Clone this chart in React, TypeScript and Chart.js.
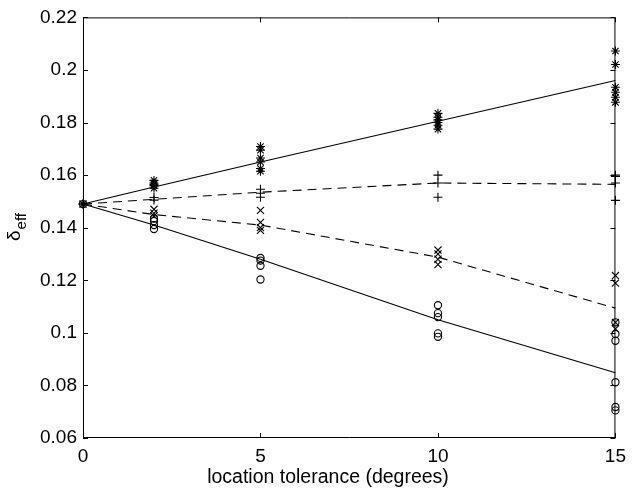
import { useEffect, useRef } from "react";
import { Chart, registerables } from "chart.js";

Chart.register(...registerables);

// x positions of the fitted curves
const lineX = [0, 2, 5, 10, 15];
const upperSolid = [0.149, 0.1555, 0.165, 0.1805, 0.196];
const upperDashed = [0.149, 0.1508, 0.1535, 0.157, 0.1565];
const lowerDashed = [0.149, 0.145, 0.141, 0.1288, 0.1094];
const lowerSolid = [0.149, 0.141, 0.128, 0.105, 0.0848];

// asterisk markers
const starX = [0, 2, 2, 2, 2, 2, 5, 5, 5, 5, 5, 5, 10, 10, 10, 10, 10, 10, 15, 15, 15, 15, 15, 15];
const starY = [0.149, 0.158, 0.157, 0.1565, 0.156, 0.155, 0.1709, 0.1695, 0.1665, 0.165, 0.1625, 0.1615, 0.1835, 0.182, 0.181, 0.18, 0.179, 0.1775, 0.2072, 0.2021, 0.1934, 0.1915, 0.1896, 0.1877];

// plus markers
const plusX = [0, 2, 2, 5, 5, 5, 10, 10, 10, 15, 15, 15, 15];
const plusY = [0.149, 0.1515, 0.1505, 0.1546, 0.1531, 0.1516, 0.16, 0.157, 0.1516, 0.16, 0.1595, 0.157, 0.1504];

// x markers
const crossX = [0, 2, 2, 2, 5, 5, 5, 5, 10, 10, 10, 10, 15, 15, 15, 15];
const crossY = [0.149, 0.147, 0.1455, 0.1445, 0.1466, 0.142, 0.14, 0.139, 0.1315, 0.13, 0.128, 0.126, 0.1218, 0.1189, 0.104, 0.1015];

// circle markers
const circX = [0, 2, 2, 2, 2, 5, 5, 5, 5, 10, 10, 10, 10, 10, 15, 15, 15, 15, 15, 15];
const circY = [0.149, 0.1435, 0.1425, 0.141, 0.1395, 0.1285, 0.1275, 0.1255, 0.1203, 0.1105, 0.1075, 0.106, 0.0998, 0.0985, 0.104, 0.0995, 0.097, 0.0812, 0.0718, 0.0705];

const xTicks = [0, 5, 10, 15];
const xTickLabels = ["0", "5", "10", "15"];
const yTicks = [0.06, 0.08, 0.1, 0.12, 0.14, 0.16, 0.18, 0.2, 0.22];
const yTickLabels = ["0.06", "0.08", "0.1", "0.12", "0.14", "0.16", "0.18", "0.2", "0.22"];

const xTitle = "location tolerance (degrees)";
const yTitleMain = "δ";
const yTitleSub = "eff";

const FONT = "'Liberation Sans', Arial, Helvetica, sans-serif";

const pts = (xs: number[], ys: number[]) => xs.map((x, i) => ({ x, y: ys[i] }));

export default function App() {
  const ref = useRef<HTMLCanvasElement | null>(null);

  useEffect(() => {
    document.body.style.margin = "0";
    const canvas = ref.current;
    if (!canvas) return;

    const framePlugin = {
      id: "frame",
      afterDraw(chart: any) {
        const { ctx, chartArea } = chart;
        const { left, right, top, bottom } = chartArea;
        const xs = chart.scales.x;
        const ys = chart.scales.y;
        const tl = 5;
        ctx.save();
        ctx.strokeStyle = "#000";
        ctx.lineWidth = 1;
        ctx.beginPath();
        ctx.rect(left + 0.5, top + 0.5, right - left - 1, bottom - top - 1);
        ctx.stroke();
        ctx.beginPath();
        xTicks.forEach((v) => {
          const px = Math.round(xs.getPixelForValue(v)) + 0.5;
          ctx.moveTo(px, bottom);
          ctx.lineTo(px, bottom - tl);
          ctx.moveTo(px, top);
          ctx.lineTo(px, top + tl);
        });
        yTicks.forEach((v) => {
          const py = Math.round(ys.getPixelForValue(v)) + 0.5;
          ctx.moveTo(left, py);
          ctx.lineTo(left + tl, py);
          ctx.moveTo(right, py);
          ctx.lineTo(right - tl, py);
        });
        ctx.stroke();

        // x title
        ctx.fillStyle = "#000";
        ctx.font = `19.5px ${FONT}`;
        ctx.textAlign = "center";
        ctx.textBaseline = "middle";
        ctx.fillText(xTitle, 328, 478);

        // y title: delta with subscript "eff", rotated
        ctx.translate(20, 241);
        ctx.rotate(-Math.PI / 2);
        ctx.textBaseline = "alphabetic";
        ctx.textAlign = "left";
        ctx.font = `19px ${FONT}`;
        ctx.fillText(yTitleMain, 0, 0);
        const w = ctx.measureText(yTitleMain).width;
        ctx.font = `15px ${FONT}`;
        ctx.fillText(yTitleSub, w + 1, 6);
        ctx.restore();
      },
    };

    const lineDs = (data: number[], dashed: boolean) => ({
      type: "line" as const,
      data: pts(lineX, data),
      borderColor: "#000",
      borderWidth: 1.1,
      borderDash: dashed ? [9, 6] : [],
      pointRadius: 0,
      showLine: true,
      fill: false,
      tension: 0,
      clip: false,
    });

    const markDs = (xs: number[], ys: number[], style: string, r: number) => ({
      type: "scatter" as const,
      data: pts(xs, ys),
      pointStyle: style,
      pointRadius: r,
      borderColor: "#000",
      backgroundColor: "rgba(0,0,0,0)",
      borderWidth: 1.1,
      showLine: false,
      clip: false,
    });

    const chart = new Chart(canvas, {
      type: "scatter",
      data: {
        datasets: [
          lineDs(upperSolid, false),
          lineDs(upperDashed, true),
          lineDs(lowerDashed, true),
          lineDs(lowerSolid, false),
          markDs(starX, starY, "star", 4.5),
          markDs(plusX, plusY, "cross", 4.5),
          markDs(crossX, crossY, "crossRot", 5),
          markDs(circX, circY, "circle", 3.6),
        ] as any,
      },
      plugins: [framePlugin],
      options: {
        responsive: false,
        animation: false,
        devicePixelRatio: 1,
        layout: { padding: { left: 0, right: 11, top: 16, bottom: 0 } },
        plugins: { legend: { display: false }, tooltip: { enabled: false } },
        elements: { line: { borderCapStyle: "butt" } },
        scales: {
          x: {
            type: "linear",
            min: 0,
            max: 15,
            grid: { display: false, drawTicks: false },
            border: { display: false },
            afterBuildTicks: (s: any) => {
              s.ticks = xTicks.map((v) => ({ value: v }));
            },
            afterFit: (s: any) => {
              s.height = 56;
            },
            ticks: {
              padding: 7,
              color: "#000",
              font: { family: FONT, size: 19 },
              maxRotation: 0,
              callback: (_v: any, i: number) => xTickLabels[i],
            },
          },
          y: {
            type: "linear",
            min: 0.06,
            max: 0.22,
            grid: { display: false, drawTicks: false },
            border: { display: false },
            afterBuildTicks: (s: any) => {
              s.ticks = yTicks.map((v) => ({ value: v }));
            },
            afterFit: (s: any) => {
              s.width = 83;
            },
            ticks: {
              padding: 6,
              color: "#000",
              font: { family: FONT, size: 19 },
              callback: (_v: any, i: number) => yTickLabels[i],
            },
          },
        },
      } as any,
    });

    return () => chart.destroy();
  }, []);

  return (
    <div style={{ width: 633, height: 494, background: "#fff" }}>
      <canvas ref={ref} width={633} height={494} />
    </div>
  );
}
